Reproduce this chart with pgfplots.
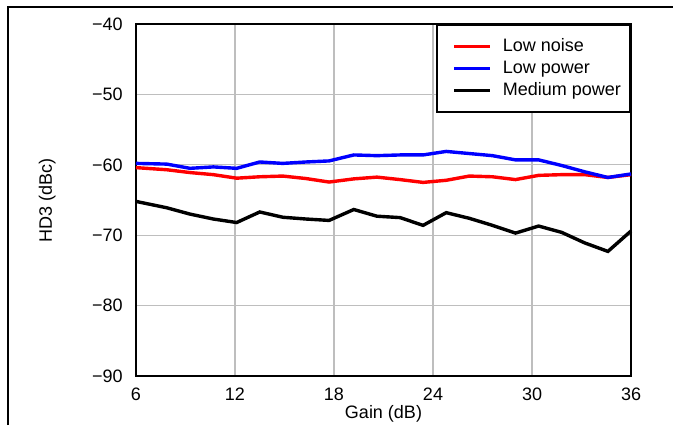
\documentclass[border=0pt]{standalone}
\usepackage{pgfplots}
\pgfplotsset{compat=1.18}
\usepackage{fontspec}
\setmainfont{Liberation Sans}
\definecolor{gridgray}{RGB}{190,190,190}
\begin{document}
\begin{tikzpicture}
\begin{axis}[
  scale only axis,
  width=247.5pt, height=176pt,
  xmin=6, xmax=36, ymin=-90, ymax=-40,
  xtick={6,12,18,24,30,36},
  xticklabels={6,12,18,24,30,36},
  ytick={-90,-80,-70,-60,-50,-40},
  yticklabels={−90,−80,−70,−60,−50,−40},
  major tick length=0pt,
  grid=major,
  major grid style={draw=gridgray, line width=0.6pt},
  axis line style={line width=1.2pt},
  tick label style={font=\fontsize{9}{10.8}\selectfont},
  yticklabel style={inner sep=0pt, anchor=east, xshift=-6.5pt},
  xticklabel style={inner sep=0pt, anchor=north, yshift=-6pt},
  label style={font=\fontsize{9}{10.8}\selectfont},
  xlabel={Gain (dB)},
  ylabel={HD3 (dBc)},
  xlabel style={at={(axis description cs:0.5,-0.122)}, anchor=base},
  ylabel style={at={(axis description cs:-0.1697,0.5)}, anchor=base},
  clip=false,
  legend cell align=left,
  legend image code/.code={\path (0pt,0pt); \draw[#1] (3.5pt,0pt) -- (21.5pt,0pt);},
  legend style={at={(axis description cs:1,1)}, anchor=north east,
    draw=black, line width=1pt, fill=white,
    inner xsep=4.5pt, inner ysep=6.5pt,
    row sep=2.5pt, column sep=5.5pt,
    font=\fontsize{9}{10.8}\selectfont,
    nodes={inner sep=0pt, text height=6.6pt, text depth=1.9pt, anchor=west}},
]
\addplot[color=red, line width=1.7pt] coordinates {
(6,-60.4) (7.86,-60.7) (9.27,-61.1) (10.69,-61.4) (12.1,-61.9) (13.5,-61.7)
(14.9,-61.6) (16.3,-61.95) (17.7,-62.45) (19.2,-62.0) (20.6,-61.75) (22.0,-62.1)
(23.4,-62.5) (24.8,-62.2) (26.2,-61.6) (27.6,-61.7) (29.0,-62.1) (30.4,-61.5)
(31.8,-61.4) (33.2,-61.4) (34.6,-61.8) (36,-61.4)};
\addlegendentry{Low noise}
\addplot[color=blue, line width=1.7pt] coordinates {
(6,-59.8) (7.86,-59.9) (9.27,-60.5) (10.69,-60.3) (12.1,-60.5) (13.5,-59.6)
(14.9,-59.8) (16.3,-59.6) (17.7,-59.45) (19.2,-58.6) (20.6,-58.7) (22.0,-58.6)
(23.4,-58.6) (24.8,-58.1) (26.2,-58.4) (27.6,-58.7) (29.0,-59.3) (30.4,-59.3)
(31.8,-60.1) (33.2,-61.0) (34.6,-61.8) (36,-61.3)};
\addlegendentry{Low power}
\addplot[color=black, line width=1.7pt] coordinates {
(6,-65.2) (7.86,-66.1) (9.27,-67.0) (10.69,-67.7) (12.1,-68.2) (13.5,-66.7)
(14.9,-67.45) (16.3,-67.7) (17.7,-67.9) (19.2,-66.35) (20.6,-67.3) (22.0,-67.5)
(23.4,-68.6) (24.8,-66.8) (26.2,-67.6) (27.6,-68.6) (29.0,-69.7) (30.4,-68.7)
(31.8,-69.6) (33.2,-71.1) (34.6,-72.3) (36,-69.4)};
\addlegendentry{Medium power}
\draw[line width=0.6pt] (axis description cs:-0.2586,-0.1392) -- (axis description cs:-0.2586,1.0483) -- (axis description cs:1.0848,1.0483);
\coordinate (bbl) at (axis description cs:-0.2747,-0.1392);
\coordinate (btr) at (axis description cs:1.0848,1.0682);
\end{axis}
\pgfresetboundingbox
\useasboundingbox (bbl) rectangle (btr);
\end{tikzpicture}
\end{document}
